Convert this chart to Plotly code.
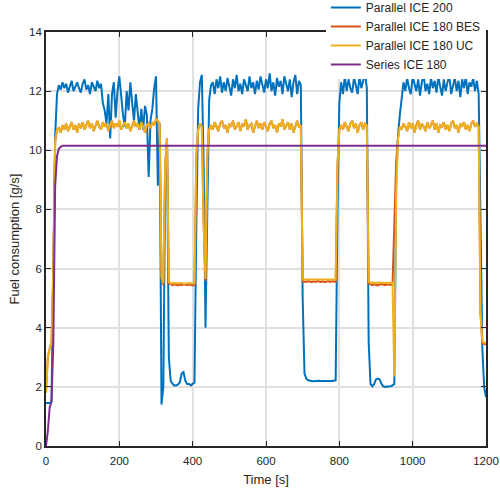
import plotly.graph_objects as go

# Sampling grid of the recorded signals [s]
time_s = list(range(0, 1201, 5))

parallel_ice_200 = [
    1.45, 1.45, 1.45, 1.5, 6.0, 10.5, 11.9,
    12.2, 12.05, 12.3, 12.1, 12.25, 11.95, 12.2, 12.35, 12.0, 12.15, 12.3, 12.1,
    11.95, 12.25, 12.4, 12.05, 12.2, 11.9, 12.3, 12.15, 12.0, 12.35, 12.1, 12.25,
    11.6, 11.35, 10.9, 11.9, 10.4, 11.9, 12.3, 11.1, 12.0, 12.5, 11.7, 11.2, 10.8,
    12.0, 11.35, 12.3, 11.6, 11.0, 11.9, 11.4, 10.7, 11.4, 10.7, 11.5, 11.2, 9.1,
    11.0, 11.4, 12.1, 12.5, 8.8,
    10.9, 1.4, 2.0, 9.0, 10.4, 3.0, 2.2, 2.1, 2.05, 2.05, 2.08, 2.15, 2.45, 2.5,
    2.2, 2.1, 2.1, 2.05, 2.1, 2.15, 7.5, 11.4, 12.3, 12.55, 9.5, 4.0, 8.0, 11.7, 12.2,
    12.3, 11.9, 12.4, 12.1, 12.5, 11.95, 12.3, 12.0, 12.45, 12.15, 11.85, 12.4,
    12.1, 12.55, 12.0, 12.25, 11.9, 12.4, 12.2, 12.0, 12.5, 12.1, 12.3, 11.9,
    12.35, 12.05, 12.5, 12.2, 11.95, 12.4, 12.1, 12.6, 12.0, 12.3, 11.85, 12.45,
    12.15, 12.35, 11.9, 12.5, 12.2, 12.0, 12.4, 11.8, 12.3, 12.55, 11.9, 12.35,
    12.2, 5.0, 2.45, 2.28, 2.22, 2.2, 2.2, 2.19, 2.2, 2.2, 2.21, 2.2, 2.19, 2.2,
    2.2, 2.21, 2.2, 2.2, 2.21, 2.22, 8.0, 11.6,
    12.3, 11.9, 12.5, 12.0, 12.4, 12.1, 11.95, 12.45, 12.2, 11.9, 12.5, 12.1, 12.35, 12.6,
    12.1, 3.5, 2.1, 2.02, 2.1, 2.25, 2.28, 2.25, 2.1, 2.02, 2.0, 2.0, 2.0, 2.02,
    2.05, 2.1, 9.0, 10.5, 11.2, 11.8, 12.3,
    12.0, 12.45, 12.1, 11.9, 12.5, 12.2, 12.0, 12.4, 11.85, 12.3, 12.55, 12.0,
    12.25, 11.9, 12.45, 12.1, 12.35, 11.95, 12.5, 12.15, 11.85, 12.4, 12.0, 12.3,
    12.55, 11.9, 12.2, 12.45, 12.0, 12.35, 11.8, 12.4, 12.1, 12.5, 11.9, 12.3,
    12.15, 12.45, 12.0, 12.35,
    11.9, 6.5, 3.3, 2.0, 1.65,
]

parallel_ice_180_bes = [
    1.8, 3.0, 3.3, 3.5, 6.0, 10.3, 10.7,
    10.75, 10.6, 10.85, 10.7, 10.9, 10.65, 10.8, 10.95, 10.7, 10.85, 10.6, 10.9,
    10.75, 10.95, 10.7, 10.85, 11.0, 10.75, 10.9, 10.65, 10.85, 11.0, 10.8, 10.7,
    10.95, 10.8, 10.9, 10.65, 10.85, 11.0, 10.75, 10.9, 10.8, 11.0, 10.7, 10.85,
    10.95, 10.75, 10.9, 10.65, 10.85, 11.0, 10.8, 10.9, 10.7, 10.95, 10.8, 10.6,
    10.85, 10.9, 10.75, 10.95, 10.85, 11.05, 11.0,
    10.9, 5.65, 5.45, 9.5, 10.4, 5.5, 5.46, 5.44, 5.47, 5.45, 5.43, 5.46, 5.44,
    5.47, 5.45, 5.44, 5.46, 5.45, 5.43, 5.46, 9.8, 10.7, 10.9, 10.8, 7.5, 5.58,
    9.8, 10.7, 10.85,
    10.7, 10.95, 10.8, 10.65, 10.9, 11.0, 10.75, 10.85, 10.6, 10.9, 10.8, 11.0,
    10.7, 10.85, 10.95, 10.65, 10.9, 10.8, 11.05, 10.7, 10.85, 10.9, 10.6, 10.8,
    11.0, 10.75, 10.9, 10.7, 10.95, 10.8, 10.65, 10.9, 11.0, 10.75, 10.85, 10.6,
    10.9, 10.8, 11.05, 10.7, 10.85, 10.95, 10.7, 10.9, 10.6, 10.85, 11.0, 10.8,
    10.85, 5.57, 5.57, 5.55, 5.58, 5.56, 5.54, 5.57, 5.55, 5.58, 5.56, 5.55, 5.57,
    5.54, 5.56, 5.58, 5.55, 5.57, 5.56, 5.55, 9.5, 10.7,
    10.85, 10.7, 10.95, 10.8, 10.65, 10.9, 11.0, 10.75, 10.9, 10.6, 10.85, 10.95, 10.7, 10.9,
    10.85, 5.5, 5.46, 5.44, 5.47, 5.45, 5.43, 5.46, 5.48, 5.45, 5.44, 5.47, 5.45,
    5.46, 5.44, 7.5, 9.6, 10.4, 10.8, 10.7, 10.9,
    10.8, 10.65, 10.95, 10.75, 10.9, 10.6, 10.85, 11.0, 10.7, 10.9, 10.8, 10.65,
    10.95, 10.75, 10.85, 11.0, 10.7, 10.9, 10.6, 10.85, 10.8, 10.95, 10.7, 10.85,
    10.65, 10.9, 11.0, 10.75, 10.85, 10.6, 10.9, 10.8, 10.95, 10.7, 10.85, 10.65,
    10.9, 11.0, 10.8, 10.9,
    10.8, 4.5, 3.47, 3.45, 3.44,
]

parallel_ice_180_uc = [
    1.8, 3.0, 3.3, 3.5, 6.0, 10.3, 10.7,
    10.75, 10.6, 10.85, 10.7, 10.9, 10.65, 10.8, 10.95, 10.7, 10.85, 10.6, 10.9,
    10.75, 10.95, 10.7, 10.85, 11.0, 10.75, 10.9, 10.65, 10.85, 11.0, 10.8, 10.7,
    10.95, 10.8, 10.9, 10.65, 10.85, 11.0, 10.75, 10.9, 10.8, 11.0, 10.7, 10.85,
    10.95, 10.75, 10.9, 10.65, 10.85, 11.0, 10.8, 10.9, 10.7, 10.95, 10.8, 10.6,
    10.85, 10.9, 10.75, 10.95, 10.85, 11.05, 11.0,
    10.9, 5.7, 5.5, 9.5, 10.4, 5.55, 5.5, 5.51, 5.5, 5.49, 5.5, 5.51, 5.5, 5.5,
    5.49, 5.5, 5.51, 5.5, 5.5, 5.51, 9.8, 10.7, 10.9, 10.8, 7.5, 5.65, 9.8, 10.7, 10.85,
    10.7, 10.95, 10.8, 10.65, 10.9, 11.0, 10.75, 10.85, 10.6, 10.9, 10.8, 11.0,
    10.7, 10.85, 10.95, 10.65, 10.9, 10.8, 11.05, 10.7, 10.85, 10.9, 10.6, 10.8,
    11.0, 10.75, 10.9, 10.7, 10.95, 10.8, 10.65, 10.9, 11.0, 10.75, 10.85, 10.6,
    10.9, 10.8, 11.05, 10.7, 10.85, 10.95, 10.7, 10.9, 10.6, 10.85, 11.0, 10.8,
    10.85, 5.63, 5.63, 5.64, 5.63, 5.62, 5.63, 5.64, 5.63, 5.63, 5.62, 5.63, 5.64,
    5.63, 5.63, 5.62, 5.63, 5.63, 5.64, 5.63, 9.5, 10.7,
    10.85, 10.7, 10.95, 10.8, 10.65, 10.9, 11.0, 10.75, 10.9, 10.6, 10.85, 10.95, 10.7, 10.9,
    10.85, 5.55, 5.52, 5.53, 5.52, 5.51, 5.52, 5.53, 5.52, 5.52, 5.51, 5.52, 5.53,
    5.52, 5.52, 2.35, 8.5, 10.4, 10.8, 10.7, 10.9,
    10.8, 10.65, 10.95, 10.75, 10.9, 10.6, 10.85, 11.0, 10.7, 10.9, 10.8, 10.65,
    10.95, 10.75, 10.85, 11.0, 10.7, 10.9, 10.6, 10.85, 10.8, 10.95, 10.7, 10.85,
    10.65, 10.9, 11.0, 10.75, 10.85, 10.6, 10.9, 10.8, 10.95, 10.7, 10.85, 10.65,
    10.9, 11.0, 10.8, 10.9,
    10.8, 4.5, 3.52, 3.5, 3.48,
]

series_ice_180 = [0.0, 0.5, 1.3, 1.5, 3.5, 8.8, 9.8, 10.05, 10.12] + [10.15] * 232

series_names = ["Parallel ICE 200", "Parallel ICE 180 BES",
                "Parallel ICE 180 UC", "Series ICE 180"]
series_colors = ["#0072BD", "#D95319", "#EDB120", "#7E2F8E"]
x_ticks = [0, 200, 400, 600, 800, 1000, 1200]
y_ticks = [0, 2, 4, 6, 8, 10, 12, 14]

all_values = [parallel_ice_200, parallel_ice_180_bes, parallel_ice_180_uc, series_ice_180]
for v in all_values:
    assert len(v) == len(time_s), len(v)

fig = go.Figure()
for name, vals, col in zip(series_names, all_values, series_colors):
    fig.add_trace(go.Scatter(x=time_s, y=vals, mode="lines", name=name,
                             line=dict(color=col, width=2)))

axis_common = dict(
    ticks="inside", ticklen=5, tickwidth=1.3, tickcolor="#262626",
    showline=True, linewidth=1.8, linecolor="#262626", mirror="ticks",
    showgrid=True, gridcolor="#e0e0e0", gridwidth=1.5, zeroline=False,
    tickfont=dict(size=11.5, color="#262626"),
)

fig.update_xaxes(range=[0, 1200], tickvals=x_ticks, ticktext=[str(t) for t in x_ticks],
                 title=dict(text="Time [s]", font=dict(size=13, color="#262626"), standoff=9),
                 ticklabelstandoff=3,
                 **axis_common)
fig.update_yaxes(range=[0, 14], tickvals=y_ticks, ticktext=[str(t) for t in y_ticks],
                 title=dict(text="Fuel consumption [g/s]", font=dict(size=13, color="#262626"), standoff=6),
                 **axis_common)

fig.update_layout(
    width=500, height=488,
    margin=dict(l=46, r=14, t=32, b=42, autoexpand=False),
    paper_bgcolor="white", plot_bgcolor="white",
    font=dict(family="Liberation Sans, Arial, sans-serif", size=12, color="#262626"),
    showlegend=True,
    legend=dict(x=0.636, y=1.094, xanchor="left", yanchor="top",
                bgcolor="white", borderwidth=0, font=dict(size=12),
                tracegroupgap=0),
)

fig.write_html("out.html")
